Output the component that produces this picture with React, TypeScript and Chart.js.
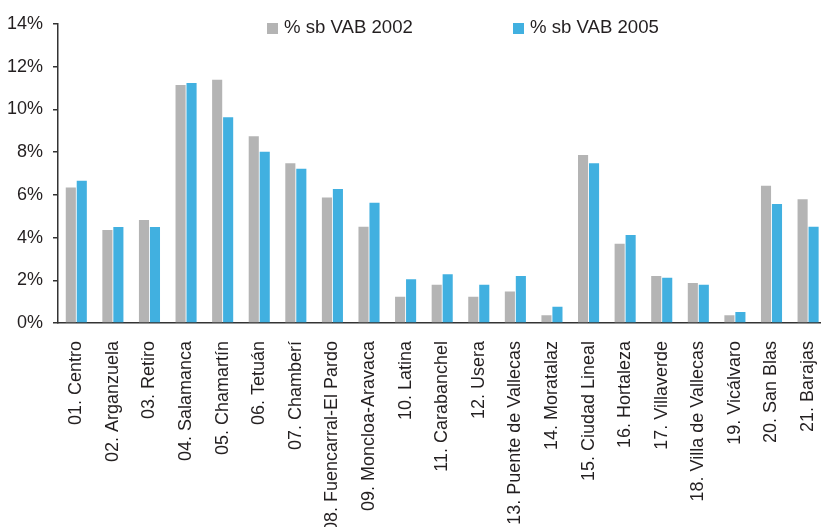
import React, { useEffect, useRef } from "react";
import { Chart, registerables } from "chart.js";

Chart.register(...registerables);

const categories = [
  "01. Centro",
  "02. Arganzuela",
  "03. Retiro",
  "04. Salamanca",
  "05. Chamartín",
  "06. Tetuán",
  "07. Chamberí",
  "08. Fuencarral-El Pardo",
  "09. Moncloa-Aravaca",
  "10. Latina",
  "11. Carabanchel",
  "12. Usera",
  "13. Puente de Vallecas",
  "14. Moratalaz",
  "15. Ciudad Lineal",
  "16. Hortaleza",
  "17. Villaverde",
  "18. Villa de Vallecas",
  "19. Vicálvaro",
  "20. San Blas",
  "21. Barajas",
];

const vab2002 = [6.35, 4.35, 4.82, 11.14, 11.39, 8.75, 7.48, 5.88, 4.51, 1.23, 1.79, 1.23, 1.48, 0.36, 7.87, 3.71, 2.2, 1.87, 0.36, 6.43, 5.79];
const vab2005 = [6.66, 4.49, 4.49, 11.24, 9.63, 8.02, 7.22, 6.27, 5.63, 2.05, 2.28, 1.79, 2.2, 0.76, 7.48, 4.12, 2.12, 1.79, 0.51, 5.57, 4.51];

const seriesLabels = ["% sb VAB 2002", "% sb VAB 2005"];
const yMin = 0;
const yMax = 14;
const yStep = 2;

const FONT = "'Liberation Sans', Arial, sans-serif";

const legendPlugin = {
  id: "customLegend",
  afterDraw(chart: any, _args: any, opts: any) {
    const ctx = chart.ctx;
    ctx.save();
    ctx.font = opts.font;
    ctx.textBaseline = "alphabetic";
    ctx.textAlign = "left";
    chart.data.datasets.forEach((ds: any, i: number) => {
      const x = opts.xs[i];
      ctx.fillStyle = ds.backgroundColor;
      ctx.fillRect(x, opts.boxTop, opts.box, opts.box);
      ctx.fillStyle = opts.color;
      ctx.fillText(ds.label, x + opts.box + opts.gap, opts.baseline);
    });
    ctx.restore();
  },
};

export default function App() {
  const ref = useRef<HTMLCanvasElement | null>(null);

  useEffect(() => {
    if (!ref.current) return;
    const chart = new Chart(ref.current, {
      type: "bar",
      data: {
        labels: categories,
        datasets: [
          {
            label: seriesLabels[0],
            data: vab2002,
            backgroundColor: "#b4b4b4",
            borderWidth: 0,
            categoryPercentage: 0.6,
            barPercentage: 0.92,
          },
          {
            label: seriesLabels[1],
            data: vab2005,
            backgroundColor: "#41b0e0",
            borderWidth: 0,
            categoryPercentage: 0.6,
            barPercentage: 0.92,
          },
        ],
      },
      options: {
        responsive: false,
        animation: false,
        devicePixelRatio: 1,
        layout: { padding: { top: 24, left: 0, right: 13, bottom: 0 } },
        plugins: {
          legend: { display: false },
          tooltip: { enabled: false },
          customLegend: {
            xs: [267, 513],
            boxTop: 23,
            box: 11,
            gap: 6,
            baseline: 33,
            font: `18.6px ${FONT}`,
            color: "#231f20",
          },
        } as any,
        scales: {
          x: {
            grid: { display: false },
            border: { display: true, color: "#333", width: 1.5 },
            ticks: {
              minRotation: 90,
              maxRotation: 90,
              autoSkip: false,
              padding: 10,
              color: "#231f20",
              font: { family: FONT, size: 18 },
            },
            afterFit(scale: any) {
              scale.height = 237;
            },
          },
          y: {
            min: yMin,
            max: yMax,
            ticks: {
              stepSize: yStep,
              padding: 10,
              color: "#231f20",
              font: { family: FONT, size: 18 },
              callback: (v: any) => `${v}%`,
            },
            grid: {
              display: true,
              drawOnChartArea: false,
              drawTicks: true,
              tickLength: 5,
              color: "#333",
              lineWidth: 1.5,
            },
            border: { display: true, color: "#333", width: 1.5 },
            afterFit(scale: any) {
              scale.width = 58;
            },
          },
        },
      },
      plugins: [legendPlugin],
    });
    return () => chart.destroy();
  }, []);

  return (
    <div
      style={{
        position: "fixed",
        left: 0,
        top: 0,
        width: 821,
        height: 527,
        overflow: "hidden",
        background: "#fff",
      }}
    >
      <canvas ref={ref} width={840} height={560} style={{ display: "block" }} />
    </div>
  );
}
